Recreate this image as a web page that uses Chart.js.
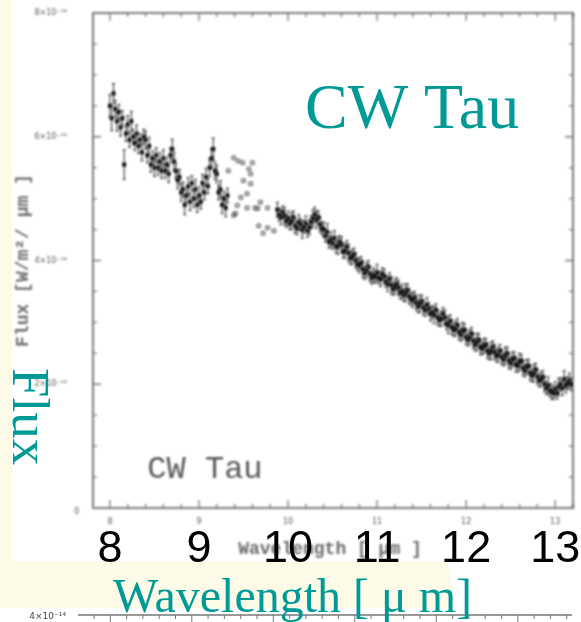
<!DOCTYPE html>
<html>
<head>
<meta charset="utf-8">
<script src="https://cdn.jsdelivr.net/npm/chart.js@4/dist/chart.umd.min.js"></script>
<style>
  html, body { margin: 0; padding: 0; background: #fdfbe8; }
  canvas { display: block; }
</style>
</head>
<body>
<canvas id="fluxChart" width="581" height="622"></canvas>
<script>
// CW Tau mid-infrared spectrum, flux in units of 1e-14 W/m^2/um
const waveGood = [
  8.00, 8.02, 8.04, 8.06, 8.08, 8.10, 8.12, 8.14, 8.16, 8.18,
  8.20, 8.22, 8.24, 8.26, 8.28, 8.30, 8.32, 8.34, 8.36, 8.38,
  8.40, 8.42, 8.44, 8.46, 8.48, 8.50, 8.52, 8.54, 8.56, 8.58,
  8.60, 8.62, 8.64, 8.66, 8.68, 8.70, 8.72, 8.74, 8.76, 8.78,
  8.80, 8.82, 8.84, 8.86, 8.88, 8.90, 8.92, 8.94, 8.96, 8.98,
  9.00, 9.02, 9.04, 9.06, 9.08, 9.10, 9.12, 9.14, 9.16, 9.18,
  9.20, 9.22, 9.24, 9.26, 9.28, 9.30, 9.32,
  9.88, 9.90, 9.92, 9.94, 9.96, 9.98,
  10.00, 10.02, 10.04, 10.06, 10.08, 10.10, 10.12, 10.14, 10.16, 10.18,
  10.20, 10.22, 10.24, 10.26, 10.28, 10.30, 10.32, 10.34, 10.36, 10.38,
  10.40, 10.42, 10.44, 10.46, 10.48, 10.50, 10.52, 10.54, 10.56, 10.58,
  10.60, 10.62, 10.64, 10.66, 10.68, 10.70, 10.72, 10.74, 10.76, 10.78,
  10.80, 10.82, 10.84, 10.86, 10.88, 10.90, 10.92, 10.94, 10.96, 10.98,
  11.00, 11.02, 11.04, 11.06, 11.08, 11.10, 11.12, 11.14, 11.16, 11.18,
  11.20, 11.22, 11.24, 11.26, 11.28, 11.30, 11.32, 11.34, 11.36, 11.38,
  11.40, 11.42, 11.44, 11.46, 11.48, 11.50, 11.52, 11.54, 11.56, 11.58,
  11.60, 11.62, 11.64, 11.66, 11.68, 11.70, 11.72, 11.74, 11.76, 11.78,
  11.80, 11.82, 11.84, 11.86, 11.88, 11.90, 11.92, 11.94, 11.96, 11.98,
  12.00, 12.02, 12.04, 12.06, 12.08, 12.10, 12.12, 12.14, 12.16, 12.18,
  12.20, 12.22, 12.24, 12.26, 12.28, 12.30, 12.32, 12.34, 12.36, 12.38,
  12.40, 12.42, 12.44, 12.46, 12.48, 12.50, 12.52, 12.54, 12.56, 12.58,
  12.60, 12.62, 12.64, 12.66, 12.68, 12.70, 12.72, 12.74, 12.76, 12.78,
  12.80, 12.82, 12.84, 12.86, 12.88, 12.90, 12.92, 12.94, 12.96, 12.98,
  13.00, 13.02, 13.04, 13.06, 13.08, 13.10, 13.12, 13.14, 13.16, 13.18
];
const fluxGood = [
  6.50, 6.30, 6.70, 6.45, 6.25, 6.40, 6.15, 6.30, 5.55, 6.05,
  6.20, 5.95, 6.25, 6.00, 5.90, 6.05, 5.85, 5.95, 5.75, 6.00,
  5.95, 5.70, 5.85, 5.55, 5.65, 5.50, 5.70, 5.50, 5.60, 5.45,
  5.65, 5.45, 5.55, 5.40, 5.70, 5.80, 5.60, 5.45, 5.30, 5.35,
  5.10, 5.15, 4.90, 5.05, 5.20, 4.95, 5.25, 5.00, 5.15, 4.90,
  5.05, 4.95, 5.25, 5.10, 5.35, 5.20, 5.50, 5.65, 5.80, 5.45,
  5.40, 5.10, 5.15, 4.90, 5.00, 4.85, 5.05,
  4.82, 4.74, 4.70, 4.78, 4.72, 4.64,
  4.68, 4.60, 4.64, 4.70, 4.56, 4.52, 4.62, 4.58, 4.50, 4.54,
  4.60, 4.48, 4.54, 4.62, 4.68, 4.74, 4.66, 4.70, 4.58, 4.52,
  4.50, 4.40, 4.46, 4.30, 4.34, 4.28, 4.36, 4.22, 4.24, 4.30,
  4.26, 4.14, 4.16, 4.22, 4.12, 4.04, 4.06, 4.10, 4.00, 3.94,
  3.92, 3.96, 3.86, 3.80, 3.84, 3.90, 3.78, 3.72, 3.76, 3.74,
  3.80, 3.72, 3.70, 3.78, 3.74, 3.66, 3.62, 3.70, 3.60, 3.54,
  3.58, 3.62, 3.56, 3.48, 3.50, 3.44, 3.48, 3.52, 3.42, 3.38,
  3.36, 3.40, 3.32, 3.26, 3.30, 3.34, 3.24, 3.20, 3.28, 3.22,
  3.14, 3.16, 3.12, 3.20, 3.08, 3.04, 3.06, 3.14, 3.08, 2.98,
  2.96, 3.02, 2.92, 2.88, 2.90, 2.96, 2.84, 2.80, 2.86, 2.88,
  2.76, 2.72, 2.76, 2.82, 2.70, 2.64, 2.68, 2.72, 2.60, 2.58,
  2.62, 2.64, 2.54, 2.50, 2.54, 2.60, 2.52, 2.46, 2.48, 2.54,
  2.44, 2.40, 2.46, 2.50, 2.38, 2.34, 2.40, 2.42, 2.32, 2.30,
  2.36, 2.38, 2.26, 2.22, 2.28, 2.30, 2.18, 2.14, 2.18, 2.24,
  2.12, 2.06, 2.08, 2.12, 2.00, 1.94, 1.98, 1.90, 1.88, 1.86,
  1.92, 1.86, 1.96, 2.00, 1.94, 2.08, 1.98, 2.02, 2.06, 2.00
];
const errGood = [
  0.18, 0.20, 0.16, 0.14, 0.16, 0.12, 0.14, 0.12, 0.24, 0.12,
  0.14, 0.12, 0.16, 0.12, 0.12, 0.14, 0.12, 0.10, 0.14, 0.12,
  0.14, 0.12, 0.14, 0.12, 0.12, 0.14, 0.12, 0.12, 0.14, 0.12,
  0.14, 0.12, 0.12, 0.14, 0.12, 0.16, 0.14, 0.12, 0.14, 0.12,
  0.14, 0.12, 0.16, 0.12, 0.14, 0.14, 0.12, 0.14, 0.16, 0.12,
  0.14, 0.12, 0.14, 0.12, 0.14, 0.12, 0.14, 0.16, 0.18, 0.14,
  0.14, 0.12, 0.14, 0.14, 0.12, 0.14, 0.12,
  0.12, 0.10, 0.12, 0.10, 0.14, 0.10,
  0.12, 0.10, 0.14, 0.10, 0.12, 0.10, 0.12, 0.10, 0.14, 0.10,
  0.12, 0.10, 0.12, 0.10, 0.14, 0.12, 0.14, 0.10, 0.12, 0.10,
  0.12, 0.10, 0.14, 0.10, 0.12, 0.10, 0.12, 0.10, 0.14, 0.10,
  0.12, 0.10, 0.12, 0.10, 0.14, 0.10, 0.12, 0.10, 0.12, 0.10,
  0.12, 0.10, 0.14, 0.10, 0.12, 0.10, 0.12, 0.10, 0.12, 0.10,
  0.14, 0.10, 0.12, 0.10, 0.12, 0.10, 0.12, 0.10, 0.14, 0.10,
  0.12, 0.10, 0.12, 0.10, 0.12, 0.10, 0.14, 0.10, 0.12, 0.10,
  0.12, 0.10, 0.12, 0.10, 0.14, 0.10, 0.12, 0.10, 0.12, 0.10,
  0.12, 0.10, 0.14, 0.10, 0.12, 0.10, 0.12, 0.10, 0.12, 0.10,
  0.14, 0.10, 0.12, 0.10, 0.12, 0.10, 0.12, 0.10, 0.14, 0.10,
  0.12, 0.10, 0.12, 0.10, 0.12, 0.10, 0.14, 0.10, 0.12, 0.10,
  0.12, 0.10, 0.12, 0.10, 0.14, 0.10, 0.12, 0.10, 0.12, 0.10,
  0.12, 0.10, 0.14, 0.10, 0.12, 0.10, 0.12, 0.10, 0.12, 0.10,
  0.14, 0.10, 0.12, 0.10, 0.12, 0.10, 0.12, 0.10, 0.14, 0.10,
  0.12, 0.10, 0.12, 0.10, 0.12, 0.10, 0.14, 0.10, 0.12, 0.10,
  0.12, 0.10, 0.14, 0.10, 0.12, 0.14, 0.12, 0.10, 0.12, 0.10
];

// points inside the ozone band, plotted as open symbols
const waveOzone = [9.33, 9.39, 9.44, 9.49, 9.56, 9.60, 9.58, 9.50, 9.58, 9.47,
  9.54, 9.43, 9.39, 9.41, 9.54, 9.63, 9.69, 9.66, 9.77, 9.67, 9.77, 9.72, 9.84];
const fluxOzone = [5.45, 5.66, 5.61, 5.58, 5.48, 5.58, 5.40, 5.29, 5.24, 5.02,
  5.08, 4.89, 4.73, 4.76, 4.85, 4.85, 4.94, 4.84, 4.85, 4.56, 4.53, 4.44, 4.48];

const xMajorTicks = [8, 9, 10, 11, 12, 13];
const yMajorTicks = [0, 2, 4, 6, 8];
const yTickLabels = ["0", "2\u00d710\u207b\u00b9\u2074", "4\u00d710\u207b\u00b9\u2074", "6\u00d710\u207b\u00b9\u2074", "8\u00d710\u207b\u00b9\u2074"];

const TEAL = "#009a96";
const CREAM = "#fdfbe8";

const goodPoints = waveGood.map((x, i) => ({ x: x, y: fluxGood[i] }));
const ozonePoints = waveOzone.map((x, i) => ({ x: x, y: fluxOzone[i] }));

// slide background: white panel over the cream page
const backdrop = {
  id: "backdrop",
  beforeDraw(chart) {
    const ctx = chart.ctx;
    ctx.save();
    ctx.fillStyle = CREAM;
    ctx.fillRect(0, 0, 581, 622);
    ctx.fillStyle = "#ffffff";
    ctx.fillRect(12, 0, 569, 561);
    ctx.beginPath();
    ctx.moveTo(448, 561);
    ctx.lineTo(581, 561);
    ctx.lineTo(581, 622);
    ctx.lineTo(0, 622);
    ctx.lineTo(0, 608);
    ctx.lineTo(456, 608);
    ctx.closePath();
    ctx.fill();

    // top edge of the next panel peeking in below
    ctx.filter = "blur(0.7px)";
    ctx.strokeStyle = "#777";
    ctx.lineWidth = 1.6;
    ctx.beginPath();
    ctx.moveTo(78, 615);
    ctx.lineTo(572, 615);
    ctx.stroke();
    ctx.lineWidth = 1;
    for (let i = 0, px = 94; px < 572; i++, px += 16.3) {
      ctx.beginPath();
      ctx.moveTo(px, 615);
      ctx.lineTo(px, 615 + (i % 5 === 1 ? 7 : 4));
      ctx.stroke();
    }
    ctx.fillStyle = "#444";
    ctx.font = "9px 'DejaVu Sans'";
    ctx.textAlign = "right";
    ctx.textBaseline = "middle";
    ctx.fillText("4\u00d710\u207b\u00b9\u2074", 66, 617);
    ctx.restore();
  }
};

// frame with inward ticks, small scan labels and error bars, all softened
const scanFrame = {
  id: "scanFrame",
  beforeDatasetsDraw(chart) {
    const ctx = chart.ctx;
    const xs = chart.scales.x, ys = chart.scales.y;
    const a = chart.chartArea;
    ctx.save();
    ctx.filter = "blur(0.8px)";

    ctx.strokeStyle = "#7c7c7c";
    ctx.lineWidth = 2;
    ctx.strokeRect(a.left, a.top, a.right - a.left, a.bottom - a.top);

    ctx.lineWidth = 1.3;
    ctx.strokeStyle = "#777";
    for (let v = 8; v <= 13.2; v += 0.2) {
      const px = xs.getPixelForValue(v);
      const major = Math.abs(v - Math.round(v)) < 1e-6;
      const len = major ? 8 : 4;
      ctx.beginPath();
      ctx.moveTo(px, a.bottom); ctx.lineTo(px, a.bottom - len);
      ctx.moveTo(px, a.top); ctx.lineTo(px, a.top + len);
      ctx.stroke();
    }
    for (let v = 0.5; v < 8; v += 0.5) {
      const py = ys.getPixelForValue(v);
      const len = v % 2 === 0 ? 8 : 4;
      ctx.beginPath();
      ctx.moveTo(a.left, py); ctx.lineTo(a.left + len, py);
      ctx.moveTo(a.right, py); ctx.lineTo(a.right - len, py);
      ctx.stroke();
    }

    // tiny tick labels
    ctx.fillStyle = "#555";
    ctx.font = "8px 'DejaVu Sans'";
    ctx.textAlign = "center";
    ctx.textBaseline = "middle";
    xMajorTicks.forEach(v => ctx.fillText(String(v), xs.getPixelForValue(v), a.bottom + 14));
    ctx.textAlign = "right";
    yMajorTicks.forEach((v, i) => ctx.fillText(yTickLabels[i], a.left - 26 + (v === 0 ? 12 : 0), ys.getPixelForValue(v) + (v === 0 ? 4 : 0)));

    // axis titles of the scanned figure
    ctx.fillStyle = "#6a6a6a";
    ctx.font = "bold 18px 'Liberation Mono'";
    ctx.textAlign = "center";
    ctx.fillText("Wavelength [ \u03bcm ]", (a.left + a.right) / 2 - 3, 549);
    ctx.save();
    ctx.translate(23, ys.getPixelForValue(4));
    ctx.rotate(-Math.PI / 2);
    ctx.fillText("Flux [W/m\u00b2/ \u03bcm ]", 0, 0);
    ctx.restore();

    // object name written inside the frame
    ctx.fillStyle = "#555";
    ctx.font = "32px 'Liberation Mono'";
    ctx.textAlign = "left";
    ctx.textBaseline = "alphabetic";
    ctx.fillText("CW Tau", xs.getPixelForValue(8.42), ys.getPixelForValue(0.48));

    // error bars under the filled points
    ctx.strokeStyle = "#222";
    ctx.lineWidth = 1;
    waveGood.forEach((x, i) => {
      const px = xs.getPixelForValue(x);
      const top = ys.getPixelForValue(fluxGood[i] + errGood[i]);
      const bot = ys.getPixelForValue(fluxGood[i] - errGood[i]);
      ctx.beginPath();
      ctx.moveTo(px, top); ctx.lineTo(px, bot);
      ctx.moveTo(px - 1.5, top); ctx.lineTo(px + 1.5, top);
      ctx.moveTo(px - 1.5, bot); ctx.lineTo(px + 1.5, bot);
      ctx.stroke();
    });
    // filter stays on while the datasets draw; restored afterwards
  },
  afterDatasetsDraw(chart) {
    chart.ctx.restore();
  }
};

// crisp slide captions on top of the scan
const captions = {
  id: "captions",
  afterDraw(chart) {
    const ctx = chart.ctx;
    const xs = chart.scales.x;
    ctx.save();
    ctx.fillStyle = "#000";
    ctx.font = "45px 'Liberation Sans'";
    ctx.textAlign = "center";
    ctx.textBaseline = "alphabetic";
    xMajorTicks.forEach(v => ctx.fillText(String(v), xs.getPixelForValue(v), 562));

    ctx.fillStyle = TEAL;
    ctx.font = "64px 'Liberation Serif'";
    ctx.textAlign = "left";
    ctx.fillText("CW Tau", 305, 128);

    ctx.font = "48px 'Liberation Serif'";
    ctx.fillText("Wavelength [ \u03bc m]", 113, 612);

    ctx.translate(13, 368);
    ctx.rotate(Math.PI / 2);
    ctx.font = "53px 'Liberation Serif'";
    ctx.fillText("Flux", 0, 0);
    ctx.restore();
  }
};

const ctx = document.getElementById("fluxChart").getContext("2d");
new Chart(ctx, {
  type: "scatter",
  data: {
    datasets: [
      {
        label: "CW Tau",
        data: goodPoints,
        pointStyle: "rect",
        pointRadius: 2.8,
        backgroundColor: "#111",
        borderColor: "#111",
        borderWidth: 0
      },
      {
        label: "ozone band",
        data: ozonePoints,
        pointStyle: "rect",
        pointRadius: 2.4,
        backgroundColor: "rgba(255,255,255,0)",
        borderColor: "#333",
        borderWidth: 1
      }
    ]
  },
  options: {
    responsive: false,
    animation: false,
    layout: { padding: { left: 93, right: 8, top: 13, bottom: 114 } },
    plugins: { legend: { display: false }, tooltip: { enabled: false } },
    scales: {
      x: { type: "linear", min: 7.81, max: 13.2, display: false },
      y: { type: "linear", min: 0, max: 8, display: false }
    }
  },
  plugins: [backdrop, scanFrame, captions]
});
</script>
</body>
</html>
